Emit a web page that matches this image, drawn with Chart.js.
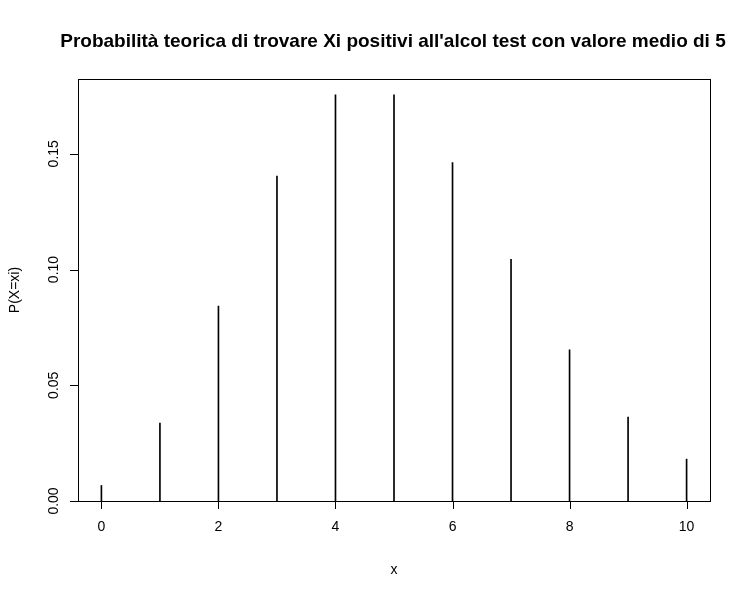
<!DOCTYPE html>
<html>
<head>
<meta charset="utf-8">
<script src="https://cdn.jsdelivr.net/npm/chart.js@4"></script>
<style>body{margin:0;background:#fff}#wrap{width:751px;height:599px}</style>
</head>
<body>
<div id="wrap"><canvas id="grafico"></canvas></div>
<script>
const xs = [0, 1, 2, 3, 4, 5, 6, 7, 8, 9, 10];
const probs = [0.0067, 0.0337, 0.0842, 0.1404, 0.1755, 0.1755, 0.1462, 0.1044, 0.0653, 0.0363, 0.0181];
const xTicks = [0, 2, 4, 6, 8, 10];
const yTicks = [0.00, 0.05, 0.10, 0.15];
const titolo = "Probabilità teorica di trovare Xi positivi all'alcol test con valore medio di 5";

const fnt = "Liberation Sans, Arial, sans-serif";

// assi stile R: box, tick esterni, etichette y ruotate
const assiR = {
  id: "assiR",
  afterDraw(chart) {
    const c = chart.ctx, a = chart.chartArea;
    const sx = chart.scales.x, sy = chart.scales.y;
    c.save();
    c.strokeStyle = "#000";
    c.fillStyle = "#000";
    c.lineWidth = 1;
    c.strokeRect(a.left + 0.5, a.top + 0.5, a.right - a.left, a.bottom - a.top);
    c.beginPath();
    xTicks.forEach(v => {
      const px = Math.round(sx.getPixelForValue(v)) + 0.5;
      c.moveTo(px, a.bottom); c.lineTo(px, a.bottom + 8);
    });
    yTicks.forEach(v => {
      const py = Math.round(sy.getPixelForValue(v)) + 0.5;
      c.moveTo(a.left, py); c.lineTo(a.left - 8, py);
    });
    c.stroke();
    c.font = "14px " + fnt;
    c.textAlign = "center";
    c.textBaseline = "top";
    xTicks.forEach(v => c.fillText(String(v), sx.getPixelForValue(v), a.bottom + 19));
    yTicks.forEach(v => {
      c.save();
      c.translate(a.left - 24, sy.getPixelForValue(v));
      c.rotate(-Math.PI / 2);
      c.textBaseline = "middle";
      c.fillText(v.toFixed(2), 0, 0);
      c.restore();
    });
    c.fillText("x", (a.left + a.right) / 2, a.bottom + 62);
    c.save();
    c.translate(a.left - 63, (a.top + a.bottom) / 2);
    c.rotate(-Math.PI / 2);
    c.textBaseline = "middle";
    c.fillText("P(X=xi)", 0, 0);
    c.restore();
    c.font = "bold 19px " + fnt;
    c.textBaseline = "middle";
    c.fillText(titolo, 393, 42);
    c.restore();
  }
};

new Chart(document.getElementById("grafico"), {
  type: "bar",
  data: {
    datasets: [{
      data: xs.map((x, i) => ({ x: x, y: probs[i] })),
      backgroundColor: "#000",
      barThickness: 1,
    }],
  },
  options: {
    responsive: true,
    maintainAspectRatio: false,
    animation: false,
    layout: { padding: { left: 78, right: 41, top: 79, bottom: 98 } },
    scales: {
      x: { type: "linear", min: -0.4, max: 10.4, offset: false, display: false },
      y: { min: 0, max: 0.1823, display: false },
    },
    plugins: { legend: { display: false }, tooltip: { enabled: false } },
  },
  plugins: [assiR],
});
</script>
</body>
</html>
